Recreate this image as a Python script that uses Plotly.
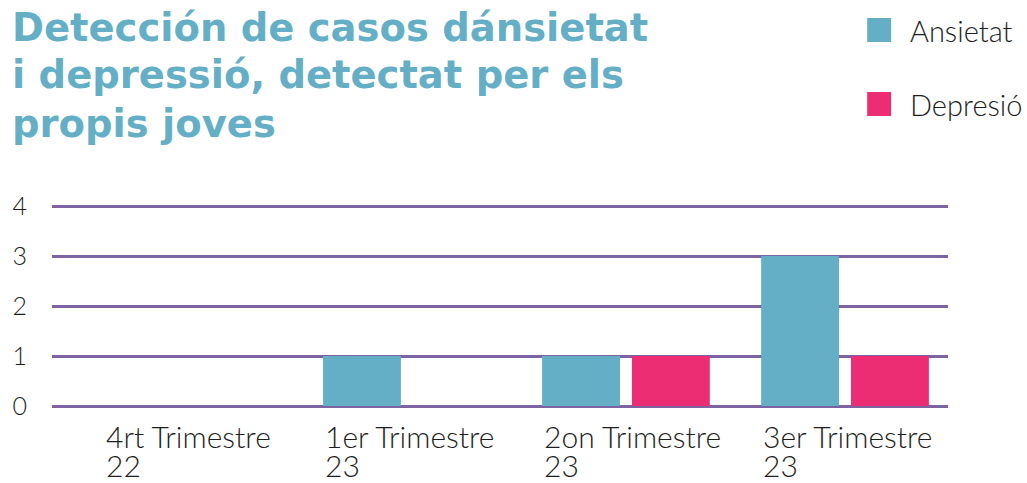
import plotly.graph_objects as go

category_names = ["4rt Trimestre", "1er Trimestre", "2on Trimestre", "3er Trimestre"]
category_years = ["22", "23", "23", "23"]
ansietat = [0, 1, 1, 3]
depresio = [0, 0, 1, 1]
series_names = ["Ansietat", "Depresió"]
title_lines = ["Detección de casos dánsietat", "i depressió, detectat per els", "propis joves"]
y_ticks = [0, 1, 2, 3, 4]

TEAL = "#64AFC6"
PINK = "#EC2C73"
GRID = "#7D63A2"
TEXT = "#1e1e1e"
FONT = "Lato"
TFONT = "DejaVu Sans"

x_idx = list(range(len(category_names)))

fig = go.Figure()
fig.add_trace(go.Bar(x=x_idx, y=ansietat, name=series_names[0], marker_color=TEAL,
                     marker_line_width=0, showlegend=False))
fig.add_trace(go.Bar(x=x_idx, y=depresio, name=series_names[1], marker_color=PINK,
                     marker_line_width=0, showlegend=False))

# plot area: x 50..948 px, y 201..411 px
W, H = 1027, 483
L, R, T, B = 50, 1027 - 948, 201, 483 - 411
pw, ph = W - L - R, H - T - B

def px(x):
    return (x - L) / pw

def py(y):
    return (H - B - y) / ph

annotations = []
# title lines
for i, line in enumerate(title_lines):
    annotations.append(dict(text=line, xref="paper", yref="paper", x=px(8), y=py(27 + i * 48),
                            xanchor="left", yanchor="middle", showarrow=False,
                            font=dict(family=TFONT, size=38.5, color=TEAL, weight=700)))

# x category labels (left aligned with the first bar of each group)
group_half = 0.3825
for i, (c, yr) in enumerate(zip(category_names, category_years)):
    annotations.append(dict(text=c, xref="x", yref="paper", x=i - group_half, y=py(436),
                            xanchor="left", yanchor="middle", align="left", showarrow=False,
                            font=dict(family=FONT, size=30, color=TEXT, weight=300)))
    annotations.append(dict(text=yr, xref="x", yref="paper", x=i - group_half, y=py(465),
                            xanchor="left", yanchor="middle", align="left", showarrow=False,
                            font=dict(family=FONT, size=30, color=TEXT, weight=300)))

# legend
shapes = []
colors = [TEAL, PINK]
for i, (name, col) in enumerate(zip(series_names, colors)):
    yc = 30 + i * 74
    shapes.append(dict(type="rect", xref="paper", yref="paper", x0=px(867), x1=px(891),
                       y0=py(yc - 12), y1=py(yc + 12), fillcolor=col, line_width=0))
    annotations.append(dict(text=name, xref="paper", yref="paper", x=px(908), y=py(yc),
                            xanchor="left", yanchor="middle", showarrow=False,
                            font=dict(family=FONT, size=29, color=TEXT, weight=300)))

fig.update_layout(
    width=W, height=H,
    margin=dict(l=L, r=R, t=T, b=B),
    paper_bgcolor="white", plot_bgcolor="white",
    barmode="group", bargap=0.18, bargroupgap=0.133,
    xaxis=dict(range=[-0.62, 3.47], showticklabels=False, showgrid=False, zeroline=False,
               showline=False, ticks=""),
    yaxis=dict(range=[-0.1, 4.1], tickvals=y_ticks, showgrid=True, gridcolor=GRID, gridwidth=2.5,
               zeroline=False, showline=False, ticks="", ticklabelstandoff=24,
               tickfont=dict(family=FONT, size=25, color=TEXT, weight=300)),
    annotations=annotations, shapes=shapes,
    showlegend=False,
)

fig.write_html("out.html", config={"displayModeBar": False},
               post_script="document.body.style.margin='0';document.body.style.overflow='hidden';")
